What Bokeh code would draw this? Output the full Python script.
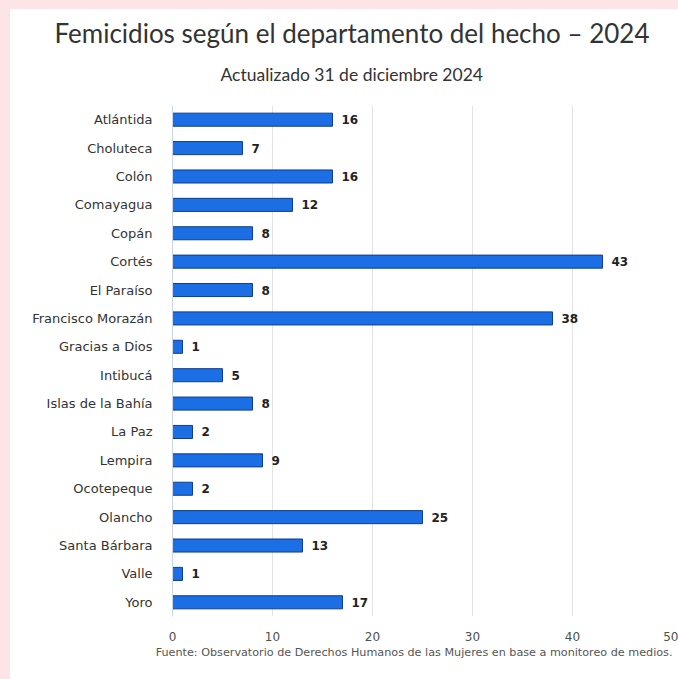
from bokeh.plotting import figure
from bokeh.models import FactorRange, Range1d, Title, ColumnDataSource, FixedTicker, Spacer
from bokeh.layouts import column, row
from bokeh.embed import file_html
from bokeh.resources import INLINE
from bokeh.core.properties import value

# ---- data ----
departamentos = ["Atlántida", "Choluteca", "Colón", "Comayagua", "Copán", "Cortés",
                 "El Paraíso", "Francisco Morazán", "Gracias a Dios", "Intibucá",
                 "Islas de la Bahía", "La Paz", "Lempira", "Ocotepeque", "Olancho",
                 "Santa Bárbara", "Valle", "Yoro"]
femicidios = [16, 7, 16, 12, 8, 43, 8, 38, 1, 5, 8, 2, 9, 2, 25, 13, 1, 17]
x_ticks = [0, 10, 20, 30, 40, 50]
titulo = "Femicidios según el departamento del hecho – 2024"
subtitulo = "Actualizado 31 de diciembre 2024"
fuente = "Fuente: Observatorio de Derechos Humanos de las Mujeres en base a monitoreo de medios."

PINK = "#fde4e6"

fig = figure(width=668, height=670,
             y_range=FactorRange(factors=departamentos[::-1], range_padding=0),
             x_range=Range1d(0, 50), toolbar_location=None, output_backend="svg",
             min_border_left=162, min_border_right=6, min_border_top=96, min_border_bottom=63)
fig.border_fill_color = "white"
fig.background_fill_color = "white"

src = ColumnDataSource(dict(dep=departamentos, val=femicidios, lbl=[str(v) for v in femicidios]))
fig.hbar(y="dep", right="val", height=0.46, source=src,
         fill_color="#1b6ee4", line_color="#113d8c", line_width=1)
fig.text(x="val", y="dep", text="lbl", source=src, x_offset=9,
         text_baseline="middle", text_align="left", text_font=value("DejaVu Sans"),
         text_font_size="12px", text_font_style="bold", text_color="#222222")

fig.xaxis.ticker = FixedTicker(ticks=x_ticks)
fig.xaxis.axis_line_color = None
fig.xaxis.major_tick_line_color = None
fig.xaxis.minor_tick_line_color = None
fig.xaxis.major_label_standoff = 9
fig.xaxis.major_label_text_font = "DejaVu Sans"
fig.xaxis.major_label_text_font_size = "12px"
fig.xaxis.major_label_text_color = "#505050"

fig.yaxis.axis_line_color = "#ccd6eb"
fig.yaxis.major_tick_line_color = None
fig.yaxis.minor_tick_line_color = None
fig.yaxis.major_label_standoff = 14
fig.yaxis.major_label_text_font = "DejaVu Sans"
fig.yaxis.major_label_text_font_size = "13px"
fig.yaxis.major_label_text_color = "#333333"

fig.ygrid.grid_line_color = None
fig.xgrid.grid_line_color = "#e3e3e3"
fig.outline_line_color = None

# titles above the plot (first added sits nearest the plot area)
fig.add_layout(Title(text=" ", text_font="Lato", text_font_size="9.5px", standoff=0), "above")
fig.add_layout(Title(text=subtitulo, align="left", offset=48, text_font="Lato",
                     text_font_size="17.5px", text_font_style="normal", text_color="#333333",
                     standoff=15), "above")
fig.add_layout(Title(text=titulo, align="left", offset=-118, text_font="Lato",
                     text_font_size="26px", text_font_style="normal", text_color="#333333",
                     standoff=11), "above")

fig.add_layout(Title(text=fuente, align="right", text_font="DejaVu Sans", text_font_size="11.2px",
                     text_font_style="normal", text_color="#555555", standoff=0), "below")

# thin pink page strip along the top and left edges
top_strip = Spacer(width=678, height=9, styles={"background-color": PINK})
left_strip = Spacer(width=10, height=670, styles={"background-color": PINK})

p = column(top_strip, row(left_strip, fig, spacing=0), spacing=0)
open("out.html", "w").write(file_html(p, INLINE))
